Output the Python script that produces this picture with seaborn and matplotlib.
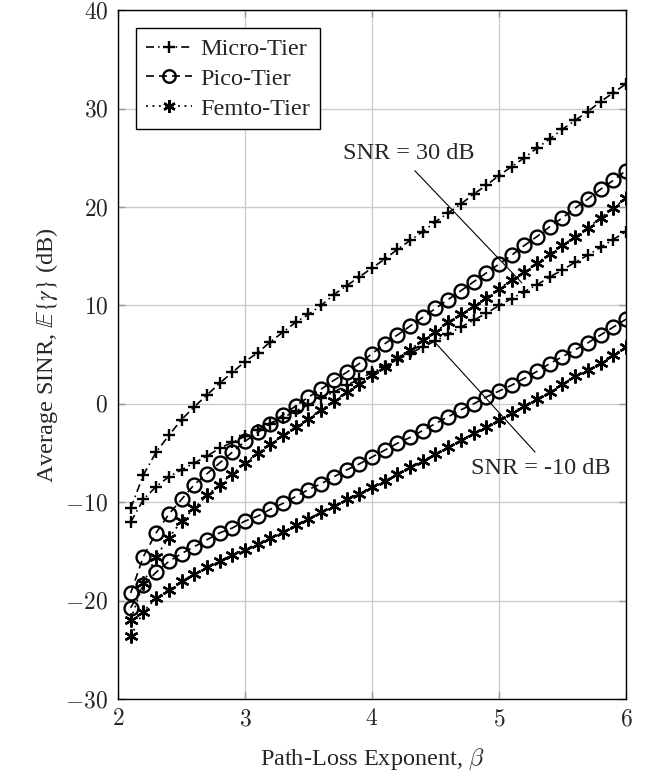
import numpy as np
import pandas as pd
import matplotlib
matplotlib.use("Agg")
import matplotlib.pyplot as plt
from matplotlib.lines import Line2D
from matplotlib.ticker import FuncFormatter
import seaborn as sns

# ---------------- data ----------------
beta = [2.1, 2.2, 2.3, 2.4, 2.5, 2.6, 2.7, 2.8, 2.9, 3.0,
        3.1, 3.2, 3.3, 3.4, 3.5, 3.6, 3.7, 3.8, 3.9, 4.0,
        4.1, 4.2, 4.3, 4.4, 4.5, 4.6, 4.7, 4.8, 4.9, 5.0,
        5.1, 5.2, 5.3, 5.4, 5.5, 5.6, 5.7, 5.8, 5.9, 6.0]

micro_snr30 = [-10.6, -7.2, -4.9, -3.2, -1.6, -0.3, 0.9, 2.1, 3.2, 4.3,
               5.2, 6.3, 7.3, 8.3, 9.1, 10.0, 11.1, 12.0, 12.9, 13.8,
               14.7, 15.7, 16.6, 17.5, 18.5, 19.4, 20.3, 21.3, 22.2, 23.2,
               24.1, 25.0, 26.0, 26.9, 27.9, 28.8, 29.7, 30.7, 31.6, 32.5]
micro_snrm10 = [-12.0, -9.7, -8.4, -7.4, -6.7, -6.0, -5.3, -4.5, -3.9, -3.3,
                -2.6, -2.0, -1.4, -0.7, -0.1, 0.6, 1.2, 1.9, 2.5, 3.2,
                3.8, 4.5, 5.1, 5.8, 6.4, 7.1, 7.8, 8.5, 9.2, 10.0,
                10.7, 11.4, 12.1, 12.9, 13.6, 14.4, 15.1, 15.9, 16.7, 17.5]
pico_snr30 = [-19.2, -15.5, -13.1, -11.2, -9.7, -8.2, -7.1, -6.0, -4.9, -3.8,
              -2.9, -2.0, -1.1, -0.2, 0.7, 1.5, 2.4, 3.2, 4.1, 5.1,
              6.1, 7.0, 7.9, 8.8, 9.7, 10.6, 11.5, 12.4, 13.3, 14.2,
              15.1, 16.1, 17.0, 18.0, 18.9, 19.9, 20.8, 21.8, 22.7, 23.7]
pico_snrm10 = [-20.7, -18.4, -17.1, -16.0, -15.2, -14.5, -13.8, -13.1, -12.6, -11.9,
               -11.4, -10.7, -10.1, -9.4, -8.7, -8.1, -7.4, -6.7, -6.1, -5.4,
               -4.7, -4.0, -3.4, -2.7, -2.0, -1.3, -0.6, 0.0, 0.7, 1.3,
               1.9, 2.6, 3.3, 4.1, 4.8, 5.5, 6.2, 7.0, 7.8, 8.6]
femto_snr30 = [-21.9, -18.2, -15.5, -13.6, -11.9, -10.6, -9.3, -8.2, -7.1, -6.0,
               -5.0, -4.1, -3.2, -2.3, -1.5, -0.6, 0.3, 1.2, 2.0, 2.9,
               3.8, 4.7, 5.5, 6.5, 7.3, 8.3, 9.1, 9.9, 10.8, 11.7,
               12.6, 13.4, 14.3, 15.2, 16.1, 17.0, 17.9, 18.9, 19.9, 20.9]
femto_snrm10 = [-23.6, -21.1, -19.7, -18.9, -18.0, -17.3, -16.6, -16.0, -15.3, -14.8,
                -14.2, -13.6, -13.0, -12.3, -11.7, -11.0, -10.4, -9.7, -9.1, -8.4,
                -7.8, -7.1, -6.4, -5.8, -5.1, -4.4, -3.7, -3.0, -2.3, -1.6,
                -0.9, -0.2, 0.5, 1.2, 2.0, 2.8, 3.4, 4.2, 5.0, 5.8]

tiers = ["Micro-Tier", "Pico-Tier", "Femto-Tier"]
snr_labels = ["SNR = 30 dB", "SNR = -10 dB"]
x_ticks = [2, 3, 4, 5, 6]
y_ticks = [-30, -20, -10, 0, 10, 20, 30, 40]

series = {
    ("Micro-Tier", 30): micro_snr30, ("Micro-Tier", -10): micro_snrm10,
    ("Pico-Tier", 30): pico_snr30, ("Pico-Tier", -10): pico_snrm10,
    ("Femto-Tier", 30): femto_snr30, ("Femto-Tier", -10): femto_snrm10,
}
rows = []
for (tier, snr), vals in series.items():
    for b, v in zip(beta, vals):
        rows.append({"beta": b, "sinr": v, "tier": tier, "snr": snr})
df = pd.DataFrame(rows)

# ---------------- style ----------------
sns.set_theme(style="white")
plt.rcParams["font.family"] = ["Liberation Serif", "DejaVu Serif"]
plt.rcParams["mathtext.fontset"] = "cm"

markers = {"Micro-Tier": "+", "Pico-Tier": "o", "Femto-Tier": (6, 2, 0)}
dashes = {"Micro-Tier": (4, 2, 0.8, 2), "Pico-Tier": (4, 2.5), "Femto-Tier": (1, 2.2)}
msizes = {"Micro-Tier": 9, "Pico-Tier": 10, "Femto-Tier": 10}
LW = 1.2
FS = 17.5

fig = plt.figure(figsize=(6.52, 7.77), dpi=100)
ax = fig.add_axes([0.181, 0.100, 0.779, 0.887])

for t in tiers:
    sub = df[df["tier"] == t]
    sns.lineplot(data=sub, x="beta", y="sinr", units="snr", estimator=None,
                 color="black", linewidth=LW,
                 linestyle=(0, tuple(d * LW for d in dashes[t])),
                 marker=markers[t], markersize=msizes[t],
                 markeredgecolor="black", markerfacecolor="none",
                 markeredgewidth=1.7, legend=False, ax=ax)

ax.set_xlim(2, 6)
ax.set_ylim(-30, 40)
ax.set_xticks(x_ticks)
ax.set_yticks(y_ticks)
fmt = FuncFormatter(lambda v, p: r"$%d$" % v)
ax.xaxis.set_major_formatter(fmt)
ax.yaxis.set_major_formatter(fmt)
ax.tick_params(axis="both", which="major", direction="in", length=5,
               width=1, color="#999999", labelsize=17, top=True, right=True,
               bottom=True, left=True, pad=7)
ax.grid(True, color="#cccccc", linewidth=1)
ax.set_axisbelow(True)
for s in ax.spines.values():
    s.set_color("black")
    s.set_linewidth(1.0)
    s.set_visible(True)

ax.set_xlabel(r"Path-Loss Exponent, $\beta$", fontsize=FS, labelpad=12,
              math_fontfamily="cm")
ax.set_ylabel(r"Average SINR, $\mathbb{E}\{\gamma\}$ (dB)", fontsize=FS,
              labelpad=4, math_fontfamily="stix")

# legend
handles = []
for t in tiers:
    handles.append(Line2D([], [], color="black", linewidth=LW,
                          linestyle=(0, tuple(d * LW for d in dashes[t])),
                          marker=markers[t], markersize=msizes[t] - 1,
                          markeredgecolor="black", markerfacecolor="none",
                          markeredgewidth=1.7))
leg = ax.legend(handles, tiers, loc="upper left", fontsize=FS,
                handlelength=1.9, handletextpad=0.35, borderaxespad=0.75,
                labelspacing=0.32, borderpad=0.4, frameon=True,
                fancybox=False, framealpha=1, edgecolor="black")
leg.get_frame().set_linewidth(1.0)

# annotations
ax.annotate(snr_labels[0], xy=(5.18, 12.3), xytext=(4.29, 25.4),
            ha="center", va="center", fontsize=FS,
            arrowprops=dict(arrowstyle="-", lw=0.8, color="black",
                            relpos=(0.5, 0.0), shrinkA=3, shrinkB=0))
ax.annotate(snr_labels[1], xy=(4.50, 6.2), xytext=(5.33, -6.6),
            ha="center", va="center", fontsize=FS,
            arrowprops=dict(arrowstyle="-", lw=0.8, color="black",
                            relpos=(0.5, 1.0), shrinkA=3, shrinkB=0))

fig.savefig("out.png", dpi=100)
